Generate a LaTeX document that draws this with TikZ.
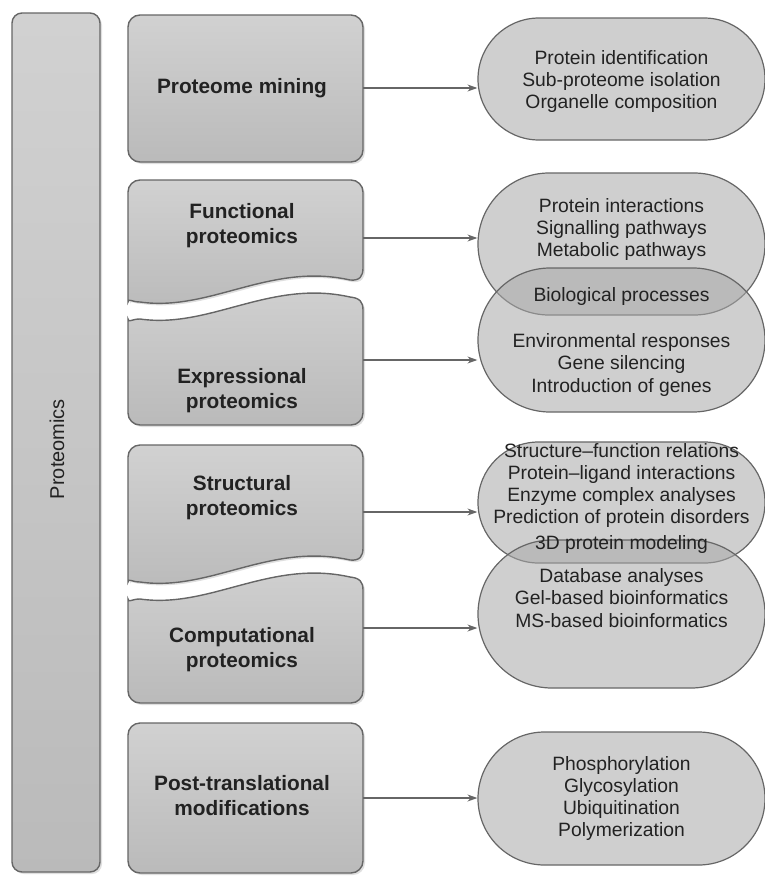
\documentclass[tikz,border=0pt]{standalone}
\usepackage{fontspec}
\setmainfont{Liberation Sans}
\usetikzlibrary{shapes.misc,shadows,arrows.meta}

\definecolor{edge}{HTML}{666666}
\definecolor{ink}{HTML}{222222}

\tikzset{
  panel/.style={draw=edge, line width=1.4pt, top color=black!18, bottom color=black!27,
    drop shadow={shadow xshift=2pt, shadow yshift=-2pt, opacity=0.25}},
  heading/.style={font=\bfseries\fontsize{20.8}{25}\selectfont, text=ink, align=center},
  stadium/.style={rounded rectangle, draw=edge, line width=1.2pt, fill=black!34,
    fill opacity=0.55, minimum width=287, inner sep=0pt},
  itemtext/.style={font=\fontsize{19.3}{22.3}\selectfont, text=ink, align=center},
  link/.style={draw=edge, line width=1.2pt, -{Stealth[length=10pt,width=7pt]}}
}

\begin{document}
\begin{tikzpicture}[x=1pt,y=-1pt]
  \useasboundingbox (0,0) rectangle (765,876);

  % the long bar on the left
  \draw[panel, rounded corners=10] (12,13) rectangle (100,872);
  \node[font=\fontsize{20}{24}\selectfont, text=ink, rotate=90] (prot) at (57,449) {Proteomics};

  % the six branches
  \draw[panel, rounded corners=12] (128,15) rectangle (363,162);
  \draw[panel] (140,302) .. controls (210,312) and (270,262) .. (350,280)
    .. controls (360,281) and (363,276) .. (363,268)
    [rounded corners=12] -- (363,180) -- (128,180) -- (128,290)
    [sharp corners] .. controls (128,298) and (132,302) .. (140,302) -- cycle;
  \draw[panel] (140,319) .. controls (210,329) and (270,279) .. (350,297)
    .. controls (360,298) and (363,302) .. (363,310)
    [rounded corners=12] -- (363,425) -- (128,425) -- (128,331)
    [sharp corners] .. controls (128,323) and (132,319) .. (140,319) -- cycle;
  \draw[panel] (140,582) .. controls (210,592) and (270,542) .. (350,560)
    .. controls (360,561) and (363,556) .. (363,548)
    [rounded corners=12] -- (363,445) -- (128,445) -- (128,570)
    [sharp corners] .. controls (128,578) and (132,582) .. (140,582) -- cycle;
  \draw[panel] (140,599) .. controls (210,609) and (270,559) .. (350,577)
    .. controls (360,578) and (363,582) .. (363,590)
    [rounded corners=12] -- (363,703) -- (128,703) -- (128,611)
    [sharp corners] .. controls (128,603) and (132,599) .. (140,599) -- cycle;
  \draw[panel, rounded corners=12] (128,723) rectangle (363,873);

  \node[heading] (mining) at (242,88) {Proteome mining};
  \node[heading] (functional) at (242,225.5) {Functional\\proteomics};
  \node[heading] (expressional) at (242,390.5) {Expressional\\proteomics};
  \node[heading] (structural) at (242,497.5) {Structural\\proteomics};
  \node[heading] (computational) at (242,649.5) {Computational\\proteomics};
  \node[heading] (ptm) at (242,795.5) {Post-translational\\modifications};

  \coordinate (mining-e) at (363,88);
  \coordinate (functional-e) at (363,238);
  \coordinate (expressional-e) at (363,360);
  \coordinate (structural-e) at (363,512);
  \coordinate (computational-e) at (363,628);
  \coordinate (ptm-e) at (363,798);

  % outcomes
  \foreach \n/\y/\h in {s1/79/122, s2/244/142, s3/340/144, s4/502.5/121, s5/614/148, s6/798.5/133}
    \node[stadium, minimum height=\h] (\n) at (621.5,\y) {};

  \node[itemtext] (s1t) at (621.5,81.5) {Protein identification\\Sub-proteome isolation\\Organelle composition};
  \node[itemtext] (s2t) at (621.5,229.5) {Protein interactions\\Signalling pathways\\Metabolic pathways};
  \node[itemtext] (bio) at (621.5,297) {Biological processes};
  \node[itemtext] (s3t) at (621.5,365) {Environmental responses\\Gene silencing\\Introduction of genes};
  \node[itemtext] (s4t) at (621.5,485.5) {Structure--function relations\\Protein--ligand interactions\\Enzyme complex analyses\\Prediction of protein disorders};
  \node[itemtext] (model) at (621.5,545) {3D protein modeling};
  \node[itemtext] (s5t) at (621.5,598) {Database analyses\\Gel-based bioinformatics\\MS-based bioinformatics};
  \node[itemtext] (s6t) at (621.5,798.5) {Phosphorylation\\Glycosylation\\Ubiquitination\\Polymerization};

  \foreach \a/\b in {mining/s1, functional/s2, expressional/s3, structural/s4, computational/s5, ptm/s6}
    \draw[link] (\a-e) -- (\a-e -| \b.west);
\end{tikzpicture}
\end{document}
